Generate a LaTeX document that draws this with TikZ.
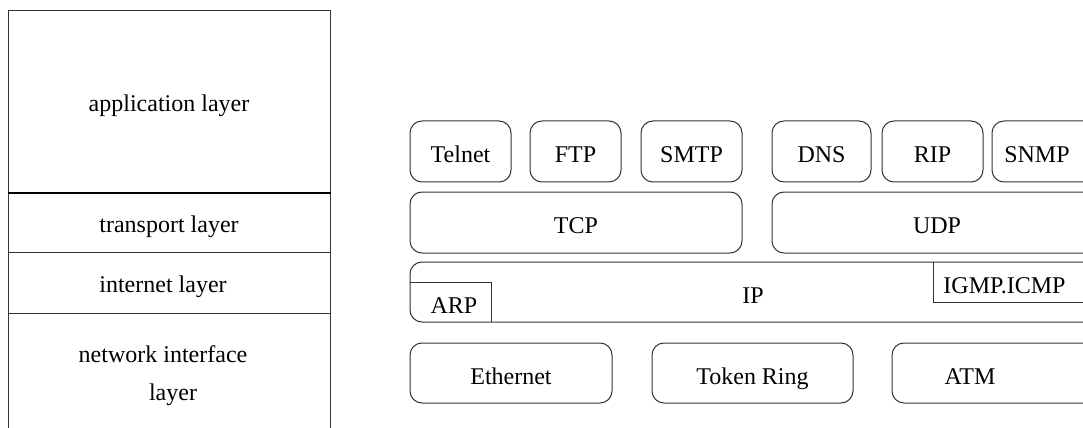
\documentclass[tikz,border=0pt]{standalone}
\usepackage{fontspec}
\setmainfont{Liberation Serif}
\usetikzlibrary{fit}
\begin{document}
\begin{tikzpicture}[x=0.75pt,y=-0.75pt,
  every node/.style={font=\fontsize{18}{22}\selectfont},
  edge/.style={draw=black!80, line width=0.75pt},
  layerbox/.style={edge, inner sep=0pt, fit={#1}},
  rbox/.style={edge, rounded corners=9pt, inner sep=0pt, fit={#1}},
  txt/.style={anchor=base, inner sep=0pt, yshift=-7.5pt},
  rtxt/.style={anchor=base, inner sep=0pt, yshift=-8.25pt}]
\useasboundingbox (0,0) rectangle (1083,428);
\clip (0,0) rectangle (1083,428);

% TCP/IP layer stack
\node[layerbox={(8,11)(330,192)}] (app) {};
\node[layerbox={(8,192)(330,252)}] (trans) {};
\node[layerbox={(8,252)(330,313)}] (inet) {};
\node[layerbox={(8,313)(330,450)}] (netif) {};
\draw[black, line width=1.5pt] (app.south west) -- (app.south east);
\node[txt] (tapp) at (169,101.5) {application layer};
\node[txt] (ttrans) at (169,222) {transport layer};
\node[txt] (tinet) at (163,282.5) {internet layer};
\node[anchor=base, inner sep=0pt] (tnet1) at (163,362.5) {network interface};
\node[anchor=base, inner sep=0pt] (tnet2) at (173,400) {layer};

% application protocols
\node[rbox={(410,121)(511,182)}] (telnet) {};
\node[rbox={(530,121)(621,182)}] (ftp) {};
\node[rbox={(641,121)(742,182)}] (smtp) {};
\node[rbox={(772,121)(871,182)}] (dns) {};
\node[rbox={(882,121)(983,182)}] (rip) {};
\node[rbox={(992,121)(1100,182)}] (snmp) {};
\node[rtxt] (ttelnet) at (telnet) {Telnet};
\node[rtxt] (tftp) at (ftp) {FTP};
\node[rtxt] (tsmtp) at (smtp) {SMTP};
\node[rtxt] (tdns) at (dns) {DNS};
\node[rtxt] (trip) at (rip) {RIP};
\node[rtxt] (tsnmp) at (1037,151.5) {SNMP};

% transport protocols
\node[rbox={(410,192)(742,253)}] (tcp) {};
\node[rbox={(772,192)(1100,253)}] (udp) {};
\node[rtxt] (ttcp) at (tcp) {TCP};
\node[rtxt] (tudp) at (937,222.5) {UDP};

% internet layer
\node[rbox={(410,262)(1100,322)}] (ip) {};
\node[anchor=base, inner sep=0pt] (tip) at (753,303) {IP};
\coordinate (arpnw) at (410,282);
\coordinate (arpne) at (491,282);
\coordinate (arpse) at (491,322);
\draw[edge] (arpnw) -- (arpne) -- (arpse);
\node[anchor=base, inner sep=0pt] (tarp) at (454,313) {ARP};
\coordinate (igmpn) at (933,262);
\coordinate (igmpsw) at (933,302);
\coordinate (igmpse) at (1100,302);
\draw[edge] (igmpn) -- (igmpsw) -- (igmpse);
\node[anchor=base, inner sep=0pt] (tigmp) at (1004.5,293) {IGMP.ICMP};

% network interface technologies
\node[rbox={(410,343)(612,403)}] (eth) {};
\node[rbox={(652,343)(853,403)}] (token) {};
\node[rbox={(892,343)(1100,403)}] (atm) {};
\node[rtxt] (teth) at (eth) {Ethernet};
\node[rtxt] (ttoken) at (token) {Token Ring};
\node[rtxt] (tatm) at (970,373) {ATM};
\end{tikzpicture}
\end{document}
